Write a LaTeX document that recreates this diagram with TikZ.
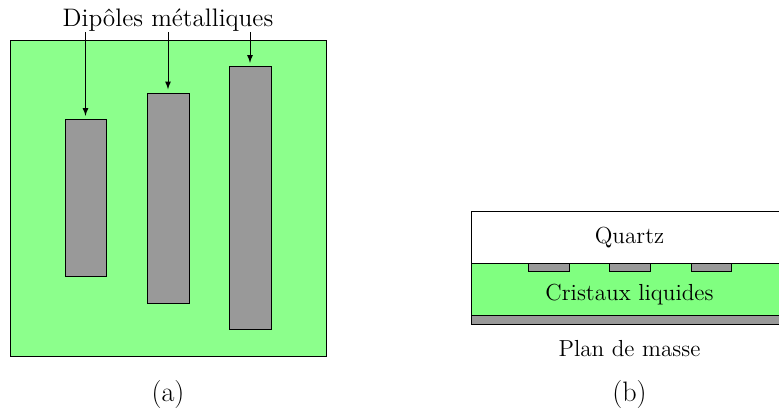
\documentclass[tikz,border=0pt]{standalone}
\definecolor{vertA}{HTML}{8CFF8C}
\definecolor{vertB}{HTML}{80FF80}
\definecolor{metal}{HTML}{999999}
\tikzset{dipole/.style={draw,fill=metal,inner sep=0pt,minimum width=#1},
  texte/.style={font=\fontsize{13.2}{16}\selectfont},
  legende/.style={font=\fontsize{16}{19}\selectfont}}
\begin{document}
\begin{tikzpicture}[>=latex,line width=.55pt]
\useasboundingbox (0,0) rectangle (15.58,8.24);
\clip (0,0) rectangle (15.58,8.24);
% vue de dessus
\draw[fill=vertA] (.2,1.12) rectangle (6.52,7.44);
\node[dipole=.82cm,minimum height=3.14cm] (dipa) at (1.71,4.28){};
\node[dipole=.84cm,minimum height=4.2cm] (dipb) at (3.36,4.28){};
\node[dipole=.84cm,minimum height=5.26cm] (dipc) at (5,4.28){};
\node[font=\fontsize{14.4}{17}\selectfont,inner sep=0pt] (titre) at (3.36,7.83){Dipôles métalliques};
\draw[->,shorten >=1.8pt] (titre.south -| dipa.north)--(dipa.north);
\draw[->,shorten >=1.8pt] (titre.south -| dipb.north)--(dipb.north);
\draw[->,shorten >=1.8pt] (titre.south -| dipc.north)--(dipc.north);
\node[legende] (leg a) at (3.36,.36){(a)};
% vue en coupe
\draw (9.43,2.98) rectangle (16,4.02);
\draw[fill=vertB] (9.43,1.93) rectangle (16,2.98);
\draw[fill=metal] (9.43,1.76) rectangle (16,1.93);
\node[dipole=.82cm,minimum height=.16cm] (pata) at (10.97,2.9){};
\node[dipole=.82cm,minimum height=.16cm] (patb) at (12.59,2.9){};
\node[dipole=.8cm,minimum height=.16cm] (patc) at (14.22,2.9){};
\node[texte] (quartz) at (12.59,3.49){Quartz};
\node[texte] (cristaux) at (12.59,2.35){Cristaux liquides};
\node[texte] (masse) at (12.59,1.27){Plan de masse};
\node[legende] (leg b) at (12.59,.36){(b)};
\end{tikzpicture}
\end{document}
